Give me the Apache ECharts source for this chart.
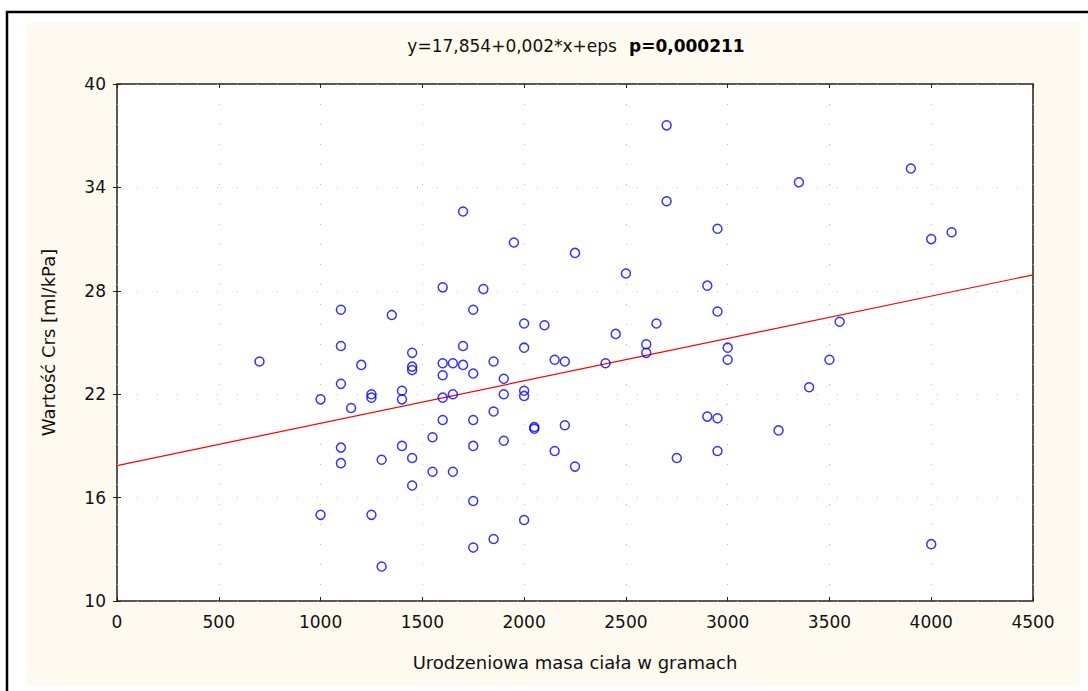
<!DOCTYPE html>
<html>
<head>
<meta charset="utf-8">
<title>Crs a masa ciała</title>
<script src="https://cdn.jsdelivr.net/npm/echarts@6/dist/echarts.min.js"></script>
<style>
  html, body { margin: 0; padding: 0; background: #ffffff; }
  #chart { width: 1088px; height: 691px; }
</style>
</head>
<body>
<div id="chart"></div>
<script>
// Birth weight [g] of each infant
const birthWeight = [
  700,
  1000, 1000,
  1100, 1100, 1100, 1100, 1100,
  1150,
  1200,
  1250, 1250, 1250,
  1300, 1300,
  1350,
  1400, 1400, 1400,
  1450, 1450, 1450, 1450, 1450,
  1550, 1550,
  1600, 1600, 1600, 1600, 1600,
  1650, 1650, 1650,
  1700, 1700, 1700,
  1750, 1750, 1750, 1750, 1750, 1750,
  1800,
  1850, 1850, 1850,
  1900, 1900, 1900,
  1950,
  2000, 2000, 2000, 2000, 2000,
  2050, 2050,
  2100,
  2150, 2150,
  2200, 2200,
  2250, 2250,
  2400,
  2450,
  2500,
  2600, 2600,
  2650,
  2700, 2700,
  2750,
  2900, 2900,
  2950, 2950, 2950, 2950,
  3000, 3000,
  3250,
  3350,
  3400,
  3500,
  3550,
  3900,
  4000, 4000,
  4100
];

// Respiratory system compliance Crs [ml/kPa], same order as birthWeight
const crsValue = [
  23.9,
  21.7, 15.0,
  26.9, 24.8, 22.6, 18.9, 18.0,
  21.2,
  23.7,
  22.0, 21.8, 15.0,
  18.2, 12.0,
  26.6,
  22.2, 21.7, 19.0,
  24.4, 23.6, 23.4, 18.3, 16.7,
  19.5, 17.5,
  28.2, 23.8, 23.1, 21.8, 20.5,
  23.8, 22.0, 17.5,
  32.6, 24.8, 23.7,
  26.9, 23.2, 20.5, 19.0, 15.8, 13.1,
  28.1,
  23.9, 21.0, 13.6,
  22.9, 22.0, 19.3,
  30.8,
  26.1, 24.7, 22.2, 21.9, 14.7,
  20.1, 20.0,
  26.0,
  24.0, 18.7,
  23.9, 20.2,
  30.2, 17.8,
  23.8,
  25.5,
  29.0,
  24.9, 24.4,
  26.1,
  37.6, 33.2,
  18.3,
  28.3, 20.7,
  31.6, 26.8, 20.6, 18.7,
  24.7, 24.0,
  19.9,
  34.3,
  22.4,
  24.0,
  26.2,
  35.1,
  31.0, 13.3,
  31.4
];

// Linear fit y = a + b*x (b shown rounded in the header)
const fitIntercept = 17.854;
const fitSlope = 0.00246;
const fitRangeX = [0, 4500];

// Axis ranges and ticks
const xTicks = [0, 500, 1000, 1500, 2000, 2500, 3000, 3500, 4000, 4500];
const yTicks = [10, 16, 22, 28, 34, 40];

const headerEquation = 'y=17,854+0,002*x+eps';
const headerPValue = 'p=0,000211';
const xAxisTitle = 'Urodzeniowa masa ciała w gramach';
const yAxisTitle = 'Wartość Crs [ml/kPa]';

const points = birthWeight.map((w, i) => [w, crsValue[i]]);
const fitPoints = fitRangeX.map(x => [x, fitIntercept + fitSlope * x]);

const FONT = '"DejaVu Sans", sans-serif';
const TEXT = '#111111';

const gridRect = { left: 117, top: 84, width: 916, height: 517 };

const dottedGrid = { show: true, lineStyle: { color: '#bdbdbd', width: 1, type: [1, 19] } };

function axisBase(ticks) {
  return {
    type: 'value',
    min: ticks[0],
    max: ticks[ticks.length - 1],
    interval: ticks[1] - ticks[0],
    axisLine: { show: false },
    axisTick: { show: true, inside: true, length: 4, lineStyle: { color: '#222', width: 1 } }
  };
}

// plain integers, no thousands separator
const plainNumber = v => String(v);

const chart = echarts.init(document.getElementById('chart'), null, { renderer: 'svg' });

chart.setOption({
  animation: false,
  backgroundColor: '#ffffff',
  graphic: {
    elements: [
      // cream panel behind the plot
      { type: 'rect', z: -100, silent: true,
        shape: { x: 27, y: 23, width: 1053, height: 662 },
        style: { fill: '#fffaef' } },
      // outer frame
      { type: 'line', z: -90, silent: true,
        shape: { x1: 6, y1: 12, x2: 1088, y2: 12 },
        style: { stroke: '#000', lineWidth: 2.5 } },
      { type: 'line', z: -90, silent: true,
        shape: { x1: 7, y1: 11, x2: 7, y2: 691 },
        style: { stroke: '#000', lineWidth: 2.5 } },
      // header with regression equation and p value
      { type: 'text', z: 10, silent: true,
        x: 576, y: 46,
        style: {
          text: '{a|' + headerEquation + '}{b|' + headerPValue + '}',
          align: 'center',
          verticalAlign: 'middle',
          rich: {
            a: { fontFamily: FONT, fontSize: 17, fill: TEXT, color: TEXT },
            b: { fontFamily: FONT, fontSize: 17, fontWeight: 'bold', fill: '#000', color: '#000', padding: [0, 0, 0, 12] }
          }
        } }
    ]
  },
  grid: Object.assign({
    show: true,
    backgroundColor: '#ffffff',
    borderColor: '#222222',
    borderWidth: 1.5,
    containLabel: false
  }, gridRect),
  xAxis: [
    Object.assign(axisBase(xTicks), {
      position: 'bottom',
      axisLabel: { fontFamily: FONT, fontSize: 17, color: TEXT, margin: 12, formatter: plainNumber },
      splitLine: dottedGrid,
      name: xAxisTitle,
      nameLocation: 'middle',
      nameGap: 52,
      nameTextStyle: { fontFamily: FONT, fontSize: 18, color: TEXT }
    }),
    Object.assign(axisBase(xTicks), {
      position: 'top',
      axisLabel: { show: false },
      splitLine: { show: false }
    })
  ],
  yAxis: [
    Object.assign(axisBase(yTicks), {
      position: 'left',
      axisLabel: { fontFamily: FONT, fontSize: 17, color: TEXT, margin: 11, formatter: plainNumber },
      splitLine: dottedGrid,
      name: yAxisTitle,
      nameLocation: 'middle',
      nameGap: 60,
      nameRotate: 90,
      nameTextStyle: { fontFamily: FONT, fontSize: 18, color: TEXT }
    }),
    Object.assign(axisBase(yTicks), {
      position: 'right',
      axisLabel: { show: false },
      splitLine: { show: false }
    })
  ],
  series: [
    {
      type: 'line',
      data: fitPoints,
      xAxisIndex: 0,
      yAxisIndex: 0,
      symbol: 'none',
      silent: true,
      lineStyle: { color: '#ff0000', width: 1.2 },
      z: 2
    },
    {
      type: 'scatter',
      data: points,
      xAxisIndex: 0,
      yAxisIndex: 0,
      symbol: 'circle',
      symbolSize: 9,
      itemStyle: { color: 'rgba(0,0,0,0)', borderColor: '#0000ff', borderWidth: 1.5 },
      z: 3
    }
  ]
});
</script>
</body>
</html>
